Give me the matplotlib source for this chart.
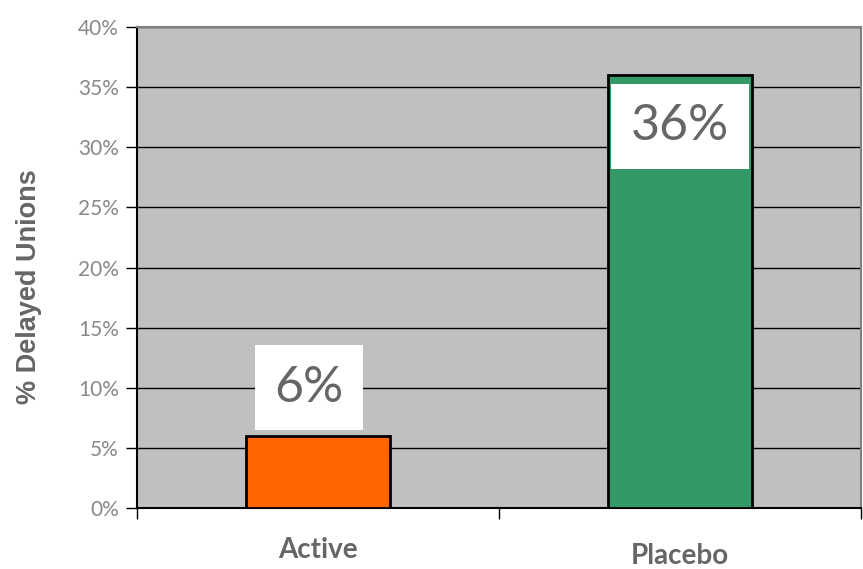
import matplotlib.pyplot as plt
from matplotlib.ticker import MultipleLocator, FuncFormatter

groups = ['Active', 'Placebo']
delayed_pct = [6, 36]
bar_colors = ['#FF6600', '#339966']

fig = plt.figure(figsize=(8.63, 5.69), dpi=100)
ax = fig.add_axes([137 / 863, 1 - 508 / 569, (861 - 137) / 863, (508 - 27) / 569])
ax.set_facecolor('#C0C0C0')

x = list(range(len(groups)))
ax.bar(x, delayed_pct, width=0.40, color=bar_colors, edgecolor='black',
       linewidth=2, zorder=3)

ax.set_xlim(-0.5, 1.5)
ax.set_ylim(0, 40)
ax.yaxis.set_major_locator(MultipleLocator(5))
ax.yaxis.set_major_formatter(FuncFormatter(lambda v, p: f'{v:.0f}%'))
ax.grid(axis='y', color='black', linewidth=1, zorder=1)

ax.set_xticks([-0.5, 0.5, 1.5])
ax.set_xticklabels([])
ax.tick_params(axis='x', length=8, width=1, direction='out', color='black')
ax.tick_params(axis='y', length=8, width=1, direction='out', color='black',
               labelsize=15, labelcolor='#888888', pad=5)
for lab in ax.get_yticklabels():
    lab.set_family('Lato')

for side in ['top', 'right']:
    ax.spines[side].set_color('#808080')
    ax.spines[side].set_linewidth(1.5)
for side in ['left', 'bottom']:
    ax.spines[side].set_color('black')
    ax.spines[side].set_linewidth(1.5)

# category labels under bars
name_drop = [42, 48]
for xi, name, d in zip(x, groups, name_drop):
    ax.annotate(name, xy=(xi, 0), xycoords='data', xytext=(0, -d),
                textcoords='offset pixels', ha='center', va='center',
                fontsize=20, fontweight='bold', color='#666666',
                family='Lato')

ax.set_ylabel('% Delayed Unions', fontsize=19.5, fontweight='bold',
              color='#666666', family='Liberation Sans')
ax.yaxis.set_label_coords(-0.131, 0.46)

# value labels in white boxes
label_shift = [4.0, -4.25]
label_dx = [-0.025, 0.0]
for xi, v, dy, dx in zip(x, delayed_pct, label_shift, label_dx):
    ax.text(xi + dx, v + dy, f'{v}%', ha='center', va='center',
            fontsize=36, color='#666666', zorder=5, family='Lato',
            bbox=dict(boxstyle='square,pad=0.39', facecolor='white',
                      edgecolor='none'))

fig.savefig('out.png', dpi=100)
